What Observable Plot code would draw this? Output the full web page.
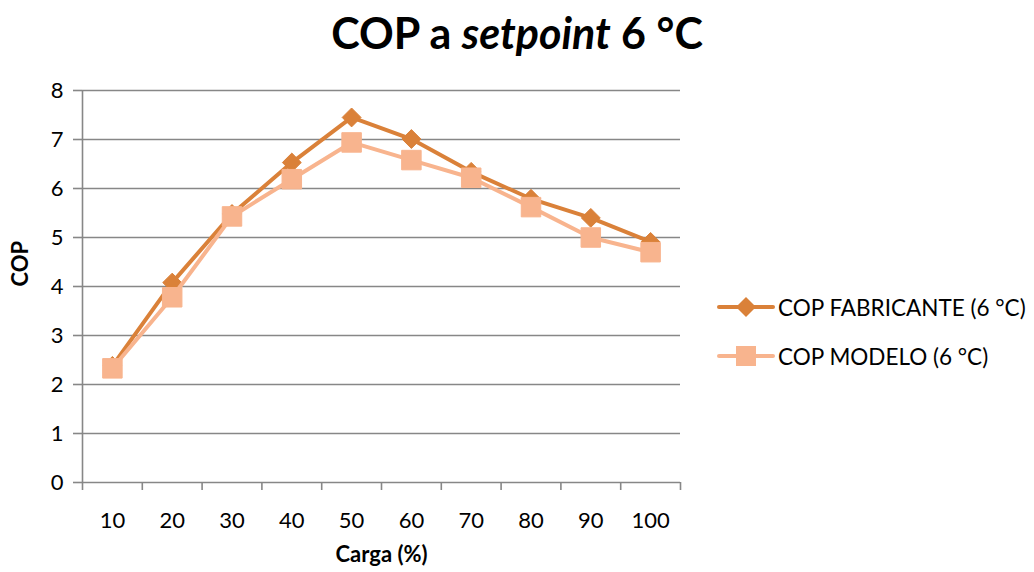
<!DOCTYPE html>
<html>
<head>
<meta charset="utf-8">
<script src="https://cdn.jsdelivr.net/npm/d3@7"></script>
<script src="https://cdn.jsdelivr.net/npm/@observablehq/plot@0.6"></script>
<style>
  html, body { margin: 0; padding: 0; background: #fff; }
  #wrap { position: relative; width: 1034px; height: 572px; font-family: Lato, "Open Sans", sans-serif; }
  #title { position: absolute; left: 0; width: 1034px; top: 7px; text-align: center; font-weight: bold; font-size: 43px; color: #000; }
  #legend { position: absolute; left: 716px; top: 292px; font-size: 22.5px; color: #000; }
  .row { display: flex; align-items: center; height: 30px; margin-bottom: 19px; }
  .row svg { margin-right: 2px; }
</style>
</head>
<body>
<div id="wrap">
  <div id="chart"></div>
  <div id="title">COP a <i>setpoint</i> 6 °C</div>
  <div id="legend"></div>
</div>
<script>
const carga = [10, 20, 30, 40, 50, 60, 70, 80, 90, 100];
const copFabricante = [2.38, 4.08, 5.48, 6.53, 7.45, 7.01, 6.34, 5.79, 5.40, 4.91];
const copModelo = [2.33, 3.78, 5.43, 6.19, 6.94, 6.58, 6.22, 5.62, 5.00, 4.70];
const yTicks = [0, 1, 2, 3, 4, 5, 6, 7, 8];
const xBoundaries = [5, 15, 25, 35, 45, 55, 65, 75, 85, 95, 105];
const seriesNames = ["COP FABRICANTE (6 °C)", "COP MODELO (6 °C)"];
const colors = ["#DA8139", "#F8B48E"];

const fab = carga.map((c, i) => ({carga: c, cop: copFabricante[i]}));
const mod = carga.map((c, i) => ({carga: c, cop: copModelo[i]}));
const gray = "#878787";

const chart = Plot.plot({
  width: 1034,
  height: 572,
  marginLeft: 82,
  marginRight: 354,
  marginTop: 90,
  marginBottom: 90,
  style: {fontFamily: "Lato, 'Open Sans', sans-serif", background: "#fff"},
  x: {type: "linear", domain: [5, 105], axis: null},
  y: {domain: [0, 8], axis: null},
  marks: [
    Plot.ruleY(yTicks, {stroke: gray, strokeWidth: 1.6}),
    Plot.ruleX([5], {y1: 0, y2: 8, stroke: gray, strokeWidth: 1.6}),
    Plot.axisX(xBoundaries, {tickSize: 8, tickFormat: () => "", stroke: gray, strokeWidth: 1.6, label: null}),
    Plot.axisX(carga, {tickSize: 0, tickPadding: 30, fontSize: 22, fill: "#000", label: null}),
    Plot.axisY(yTicks, {tickSize: 9, tickPadding: 10, fontSize: 22, stroke: gray, strokeWidth: 1.6, fill: "#000", label: null}),
    Plot.text(["Carga (%)"], {frameAnchor: "bottom", dy: 79, fontSize: 22, fontWeight: "bold", fill: "#000"}),
    Plot.text(["COP"], {frameAnchor: "left", dx: -62, rotate: -90, fontSize: 22, fontWeight: "bold", fill: "#000"}),
    Plot.line(fab, {x: "carga", y: "cop", stroke: colors[0], strokeWidth: 4, strokeLinejoin: "round", strokeLinecap: "round"}),
    Plot.dot(fab, {x: "carga", y: "cop", symbol: "diamond2", r: 8.5, fill: colors[0], stroke: colors[0], strokeWidth: 1}),
    Plot.line(mod, {x: "carga", y: "cop", stroke: colors[1], strokeWidth: 4, strokeLinejoin: "round", strokeLinecap: "round"}),
    Plot.dot(mod, {x: "carga", y: "cop", symbol: "square", r: 11, fill: colors[1], stroke: colors[1], strokeWidth: 1})
  ]
});
document.getElementById("chart").appendChild(chart);

// legend
const legend = document.getElementById("legend");
seriesNames.forEach((name, i) => {
  const row = document.createElement("div");
  row.className = "row";
  const ns = "http://www.w3.org/2000/svg";
  const s = document.createElementNS(ns, "svg");
  s.setAttribute("width", "60"); s.setAttribute("height", "30");
  const ln = document.createElementNS(ns, "line");
  ln.setAttribute("x1", "3"); ln.setAttribute("x2", "57");
  ln.setAttribute("y1", "15"); ln.setAttribute("y2", "15");
  ln.setAttribute("stroke", colors[i]); ln.setAttribute("stroke-width", "4");
  ln.setAttribute("stroke-linecap", "round");
  s.appendChild(ln);
  const m = document.createElementNS(ns, "path");
  m.setAttribute("d", i === 0 ? "M30,5 L40,15 L30,25 L20,15 Z" : "M20,5 H40 V25 H20 Z");
  m.setAttribute("fill", colors[i]);
  s.appendChild(m);
  row.appendChild(s);
  const t = document.createElement("span");
  t.textContent = name;
  row.appendChild(t);
  legend.appendChild(row);
});
</script>
</body>
</html>
